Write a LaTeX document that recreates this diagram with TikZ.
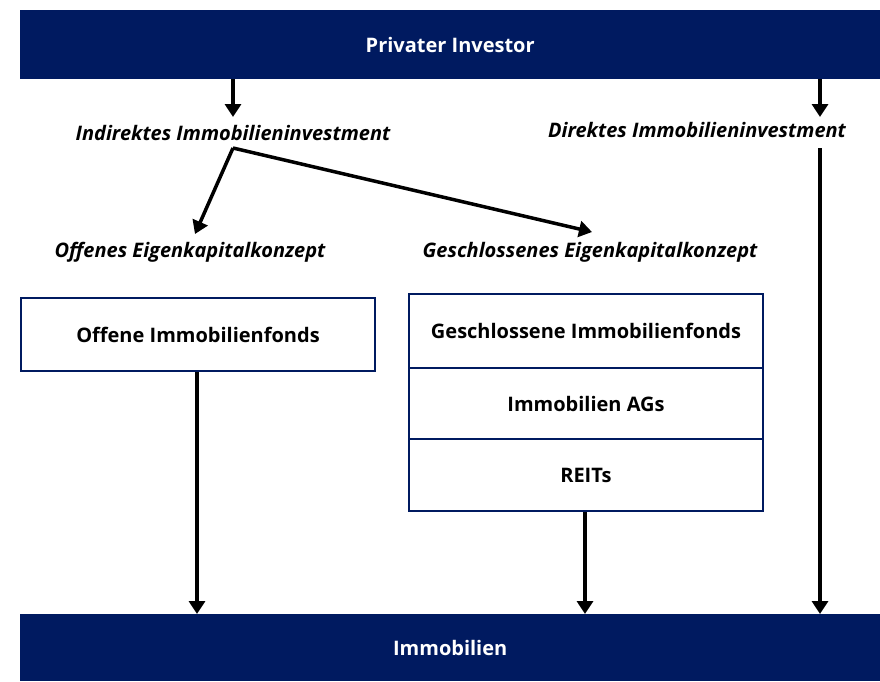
\documentclass[tikz,border=0pt]{standalone}
\usepackage{fontspec}
\setmainfont{Open Sans}
\usetikzlibrary{arrows.meta}
\definecolor{navy}{RGB}{0,26,96}
\tikzset{
  bar/.style={fill=navy, draw=none, text=white, font=\bfseries\fontsize{20}{24}\selectfont},
  label/.style={font=\bfseries\itshape\fontsize{20}{24}\selectfont, inner sep=0pt},
  box/.style={draw=navy, line width=2pt, fill=white, font=\bfseries\fontsize{20}{24}\selectfont},
  conn/.style={line width=3.5pt, -{Triangle[length=13pt,width=16pt]}}
}
\begin{document}
\begin{tikzpicture}[x=1pt,y=-1pt]
\useasboundingbox (0,0) rectangle (880,681);
\fill[white] (0,0) rectangle (880,681);
% bars
\node[bar, minimum width=860pt, minimum height=69pt, anchor=north west] (top) at (20,10) {Privater Investor};
\node[bar, minimum width=860pt, minimum height=67pt, anchor=north west] (bot) at (20,614) {Immobilien};
% labels
\node[label] (ind) at (233,133) {Indirektes Immobilieninvestment};
\node[label] (dir) at (697,130) {Direktes Immobilieninvestment};
\node[label] (off) at (190,252) {Offenes Eigenkapitalkonzept};
\node[label] (ges) at (590,252) {Geschlossenes Eigenkapitalkonzept};
% boxes
\node[box, minimum width=354pt, minimum height=73pt, anchor=north west] (oif) at (20,297) {Offene Immobilienfonds};
\node[box, minimum width=354pt, minimum height=74pt, anchor=north west] (gif) at (408,293) {Geschlossene Immobilienfonds};
\node[box, minimum width=354pt, minimum height=71pt, anchor=north west] (ags) at (408,367) {Immobilien AGs};
\node[box, minimum width=354pt, minimum height=72pt, anchor=north west] (reit) at (408,438) {REITs};
% connector helper coordinates
\coordinate (indsrc) at (233,148);
\coordinate (dirsrc) at (820,148);
\coordinate (offtip) at (195,234);
\coordinate (gestip) at (592,232);
% connectors
\draw[conn] (top.south -| indsrc) -- (233,117);
\draw[conn] (top.south -| dirsrc) -- (820,117);
\draw[conn] (indsrc) -- (offtip);
\draw[conn] (indsrc) -- (gestip);
\draw[conn] (dirsrc) -- (dirsrc |- bot.north);
\draw[conn] (oif.south -| 197,0) -- (bot.north -| 197,0);
\draw[conn] (reit.south -| 585,0) -- (bot.north -| 585,0);
\end{tikzpicture}
\end{document}
